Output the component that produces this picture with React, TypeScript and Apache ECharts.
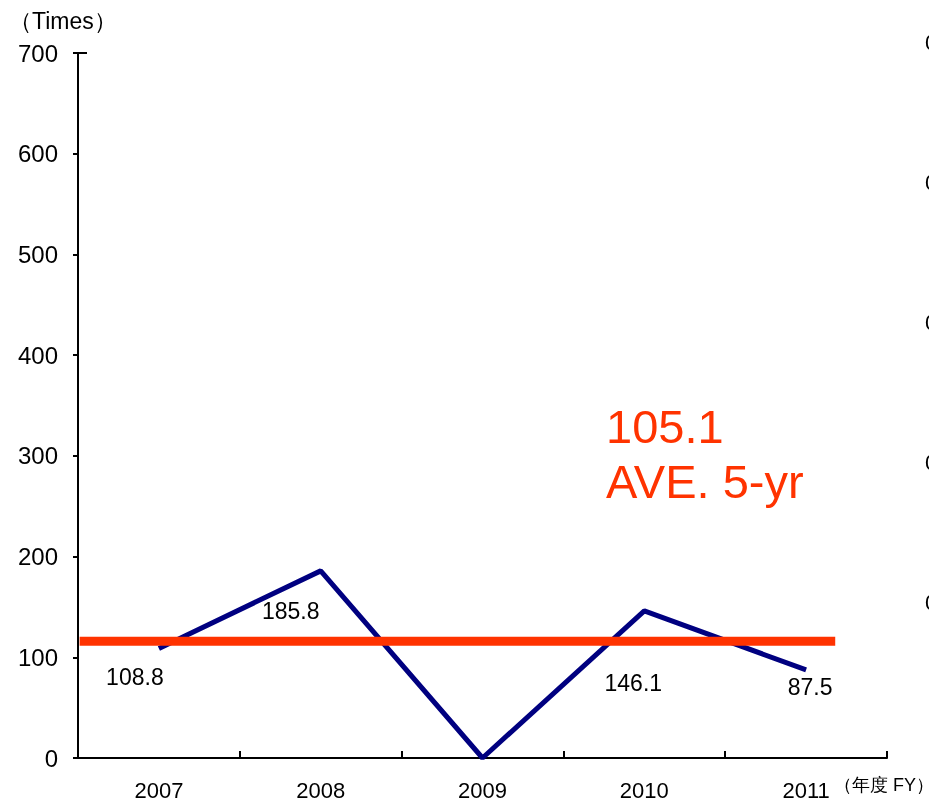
import React, { useEffect, useRef } from "react";
import * as echarts from "echarts";

const years = ["2007", "2008", "2009", "2010", "2011"];
const values = [108.8, 185.8, 0, 146.1, 87.5];
const labelTexts = ["108.8", "185.8", "", "146.1", "87.5"];
const labelOffsets = [[-24, 29], [-30, 40], [0, 0], [-11, 72], [4, 17]];
const averageLineValue = 116;
const averageLineSpan = [-0.49, 4.18];
const averageText = "105.1";
const averageCaption = "AVE. 5-yr";
const yTicks = [0, 100, 200, 300, 400, 500, 600, 700];

const FONT = "'Liberation Sans', Arial, sans-serif";

export default function App() {
  const ref = useRef<HTMLDivElement>(null);
  useEffect(() => {
    if (!ref.current) return;
    const chart = echarts.init(ref.current, undefined, { renderer: "svg" });
    const fragmentYs = [42, 182, 322, 462, 602];
    chart.setOption({
      animation: false,
      textStyle: { fontFamily: FONT },
      grid: { left: 78, right: 42, top: 53, bottom: 45, containLabel: false },
      xAxis: [
        {
          type: "category",
          data: years,
          boundaryGap: true,
          axisLine: { show: true, onZero: false, lineStyle: { color: "#000", width: 2 } },
          axisTick: { show: true, inside: true, length: 7, lineStyle: { color: "#000", width: 2 } },
          axisLabel: { color: "#000", fontSize: 22, margin: 21, fontFamily: FONT },
          splitLine: { show: false },
        },
        {
          type: "value",
          min: -0.5,
          max: 4.5,
          show: false,
          axisLine: { onZero: false },
          splitLine: { show: false },
        },
      ],
      yAxis: {
        type: "value",
        min: yTicks[0],
        max: yTicks[yTicks.length - 1],
        interval: 100,
        axisLine: { show: true, onZero: false, lineStyle: { color: "#000", width: 2 } },
        axisTick: { show: true, inside: false, length: 5, lineStyle: { color: "#000", width: 2 } },
        axisLabel: { color: "#000", fontSize: 24, margin: 20, fontFamily: FONT },
        splitLine: { show: false },
      },
      series: [
        {
          type: "line",
          xAxisIndex: 0,
          data: values.map((v, i) => ({
            value: v,
            label: {
              show: labelTexts[i] !== "",
              formatter: labelTexts[i],
              position: "inside",
              offset: labelOffsets[i],
            },
          })),
          symbol: "circle",
          symbolSize: 1,
          showSymbol: true,
          lineStyle: { color: "#000080", width: 5 },
          itemStyle: { color: "rgba(0,0,0,0)" },
          label: { show: true, color: "#000", fontSize: 23, fontFamily: FONT },
          z: 2,
        },
        {
          type: "line",
          xAxisIndex: 1,
          data: averageLineSpan.map((x) => [x, averageLineValue]),
          symbol: "none",
          silent: true,
          lineStyle: { color: "#FF3300", width: 9 },
          z: 3,
        },
      ],
      graphic: [
        {
          type: "text",
          left: 9,
          top: 9,
          style: { text: "（Times）", fontSize: 23, fill: "#000", fontFamily: FONT },
        },
        {
          type: "text",
          left: 834,
          top: 776,
          style: { text: "（年度 FY）", fontSize: 18, fill: "#000", fontFamily: FONT },
        },
        {
          type: "line",
          shape: { x1: 78, y1: 53, x2: 87, y2: 53 },
          style: { stroke: "#000", lineWidth: 2 },
        },
        {
          type: "text",
          left: 606,
          top: 399,
          style: {
            text: averageText + "\n" + averageCaption,
            fontSize: 47,
            lineHeight: 55,
            fill: "#FF3300",
            fontFamily: FONT,
          },
        },
        ...fragmentYs.map((y) => ({
          type: "text",
          x: 925,
          y: y,
          style: { text: "0", fontSize: 22, fill: "#000", fontFamily: FONT, textVerticalAlign: "middle" },
        })),
      ],
    });
    return () => chart.dispose();
  }, []);
  return (
    <div
      ref={ref}
      style={{ position: "fixed", left: 0, top: 0, width: 929, height: 803 }}
    />
  );
}
